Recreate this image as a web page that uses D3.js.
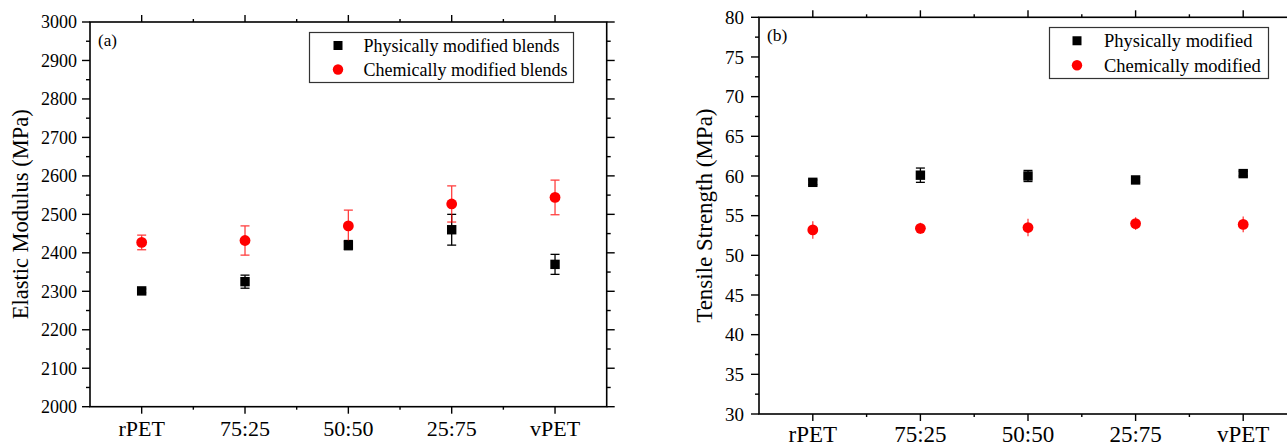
<!DOCTYPE html>
<html>
<head>
  <meta charset="utf-8">
  <title>Blends_modulus_strength</title>
  <style type="text/css">
body{
  margin: 0;
  background: #fff;
}
  </style>
</head>
<body>
<div id="chart"></div>
<script src="https://cdn.jsdelivr.net/npm/d3@7"></script>
<script type="text/javascript">
// categories shared by both panels
var blends = ["rPET", "75:25", "50:50", "25:75", "vPET"];

// (a) elastic modulus, MPa
var modulusPhys    = [2301, 2325, 2420, 2460, 2370];
var modulusPhysErr = [5, 17, 12, 40, 26];
var modulusChem    = [2427, 2432, 2470, 2527, 2544];
var modulusChemErr = [19, 38, 41, 47, 45];
var modulusTicks   = [2000, 2100, 2200, 2300, 2400, 2500, 2600, 2700, 2800, 2900, 3000];

// (b) tensile strength, MPa
var strengthPhys    = [59.2, 60.1, 60.0, 59.5, 60.3];
var strengthPhysErr = [0.3, 0.9, 0.7, 0.3, 0.3];
var strengthChem    = [53.2, 53.4, 53.5, 54.0, 53.9];
var strengthChemErr = [1.1, 0.7, 1.1, 0.8, 1.0];
var strengthTicks   = [30, 35, 40, 45, 50, 55, 60, 65, 70, 75, 80];

var FONT = "'Liberation Serif', 'Times New Roman', Times, serif";

var svg = d3.select("#chart").append("svg")
  .attr("width", 1287)
  .attr("height", 445)
  .attr("font-family", FONT);

function drawPanel(p) {
  var g = svg.append("g");

  var x = d3.scaleBand().domain(blends).range([p.left, p.right]).padding(0);
  var y = d3.scaleLinear().domain(p.domain).range([p.bottom, p.top]);
  var bw = x.bandwidth();
  var step = p.ticks[1] - p.ticks[0];
  var minor = p.ticks.slice(0, -1).map(function (t) { return t + step / 2; });
  var cx = function (d, i) { return x(blends[i]) + bw / 2; };
  var bounds = d3.range(1, blends.length).map(function (i) { return p.left + bw * i; });

  // frame
  g.append("rect")
    .attr("x", p.left).attr("y", p.top)
    .attr("width", p.right - p.left).attr("height", p.bottom - p.top)
    .attr("fill", "none").attr("stroke", "#000").attr("stroke-width", 1.6);

  var tk = g.append("g").attr("stroke", "#000").attr("stroke-width", 1.4);

  // y ticks, left side and mirrored on the right
  [p.left, p.right].forEach(function (xx, side) {
    var dir = side === 0 ? -1 : 1;
    tk.selectAll(null).data(p.ticks).enter().append("line")
      .attr("x1", xx).attr("x2", xx + dir * 8)
      .attr("y1", function (d) { return y(d); }).attr("y2", function (d) { return y(d); });
    tk.selectAll(null).data(minor).enter().append("line")
      .attr("x1", xx).attr("x2", xx + dir * 4)
      .attr("y1", function (d) { return y(d); }).attr("y2", function (d) { return y(d); });
  });

  // x ticks, bottom and top
  [p.bottom, p.top].forEach(function (yy, side) {
    var dir = side === 0 ? 1 : -1;
    tk.selectAll(null).data(blends).enter().append("line")
      .attr("x1", function (d) { return x(d) + bw / 2; }).attr("x2", function (d) { return x(d) + bw / 2; })
      .attr("y1", yy).attr("y2", yy + dir * 7);
    tk.selectAll(null).data(bounds).enter().append("line")
      .attr("x1", function (d) { return d; }).attr("x2", function (d) { return d; })
      .attr("y1", yy).attr("y2", yy + dir * 3);
  });

  // tick labels
  g.selectAll(null).data(p.ticks).enter().append("text")
    .attr("x", p.left - p.yLabelGap)
    .attr("y", function (d) { return y(d); })
    .attr("dy", "0.35em")
    .attr("text-anchor", "end")
    .style("font-family", FONT)
    .style("font-size", p.yFont + "px")
    .text(function (d) { return d; });

  g.selectAll(null).data(blends).enter().append("text")
    .attr("x", function (d) { return x(d) + bw / 2; })
    .attr("y", p.bottom + p.xLabelGap)
    .attr("text-anchor", "middle")
    .style("font-family", FONT)
    .style("font-size", p.xFont + "px")
    .text(function (d) { return d; });

  g.append("text")
    .attr("transform", "translate(" + p.titleX + "," + ((p.top + p.bottom) / 2) + ") rotate(-90)")
    .attr("dy", "0.35em")
    .attr("text-anchor", "middle")
    .style("font-family", FONT)
    .style("font-size", p.titleFont + "px")
    .text(p.title);

  g.append("text")
    .attr("x", p.left + 8).attr("y", p.top + 18)
    .attr("dy", "0.35em")
    .style("font-family", FONT)
    .style("font-size", p.tagFont + "px")
    .text(p.tag);

  // error bars
  function errorBars(vals, errs, color, cap, opacity) {
    var eb = g.append("g").attr("stroke", color).attr("stroke-width", 1.3).attr("opacity", opacity);
    eb.selectAll(null).data(vals).enter().append("line")
      .attr("x1", cx).attr("x2", cx)
      .attr("y1", function (d, i) { return y(d - errs[i]); })
      .attr("y2", function (d, i) { return y(d + errs[i]); });
    if (cap > 0) {
      [-1, 1].forEach(function (s) {
        eb.selectAll(null).data(vals).enter().append("line")
          .attr("x1", function (d, i) { return cx(d, i) - cap; })
          .attr("x2", function (d, i) { return cx(d, i) + cap; })
          .attr("y1", function (d, i) { return y(d + s * errs[i]); })
          .attr("y2", function (d, i) { return y(d + s * errs[i]); });
      });
    }
  }
  errorBars(p.phys, p.physErr, "#000", 4.5, 1);
  errorBars(p.chem, p.chemErr, "#ff0000", p.chemCap, 0.75);

  // markers
  g.selectAll(null).data(p.phys).enter().append("rect")
    .attr("x", function (d, i) { return cx(d, i) - 4.7; })
    .attr("y", function (d) { return y(d) - 4.7; })
    .attr("width", 9.4).attr("height", 9.4)
    .attr("fill", "#000");
  g.selectAll(null).data(p.chem).enter().append("circle")
    .attr("cx", cx)
    .attr("cy", function (d) { return y(d); })
    .attr("r", 5.4)
    .attr("fill", "#ff0000");

  // legend
  var L = p.legend;
  g.append("rect")
    .attr("x", L.x).attr("y", L.y).attr("width", L.w).attr("height", L.h)
    .attr("fill", "#fff").attr("stroke", "#333").attr("stroke-width", 1.2);
  var rowY = [L.y + L.h * 0.26, L.y + L.h * 0.74];
  g.append("rect")
    .attr("x", L.x + L.mark - 4.5).attr("y", rowY[0] - 4.5)
    .attr("width", 9).attr("height", 9).attr("fill", "#000");
  g.append("circle")
    .attr("cx", L.x + L.mark).attr("cy", rowY[1]).attr("r", 5.2).attr("fill", "#ff0000");
  g.selectAll(null).data(L.labels).enter().append("text")
    .attr("x", L.x + L.text)
    .attr("y", function (d, i) { return rowY[i]; })
    .attr("dy", "0.35em")
    .style("font-family", FONT)
    .style("font-size", L.font + "px")
    .text(function (d) { return d; });
}

drawPanel({
  left: 90, right: 606.7, top: 22, bottom: 406.7,
  domain: [2000, 3000], ticks: modulusTicks,
  phys: modulusPhys, physErr: modulusPhysErr,
  chem: modulusChem, chemErr: modulusChemErr, chemCap: 4.5,
  yFont: 18, xFont: 22, titleFont: 22.5, tagFont: 17,
  yLabelGap: 13, xLabelGap: 29,
  titleX: 20, title: "Elastic Modulus (MPa)", tag: "(a)",
  legend: { x: 309.5, y: 32.5, w: 264, h: 50, mark: 28.5, text: 54, font: 18,
            labels: ["Physically modified blends", "Chemically modified blends"] }
});

drawPanel({
  left: 759, right: 1297, top: 17.3, bottom: 414,
  domain: [30, 80], ticks: strengthTicks,
  phys: strengthPhys, physErr: strengthPhysErr,
  chem: strengthChem, chemErr: strengthChemErr, chemCap: 0,
  yFont: 19, xFont: 23, titleFont: 23, tagFont: 17.5,
  yLabelGap: 15, xLabelGap: 27.5,
  titleX: 704, title: "Tensile Strength (MPa)", tag: "(b)",
  legend: { x: 1049.5, y: 27.5, w: 219, h: 51, mark: 27.5, text: 54.5, font: 18.5,
            labels: ["Physically modified", "Chemically modified"] }
});
</script>
</body>
</html>
